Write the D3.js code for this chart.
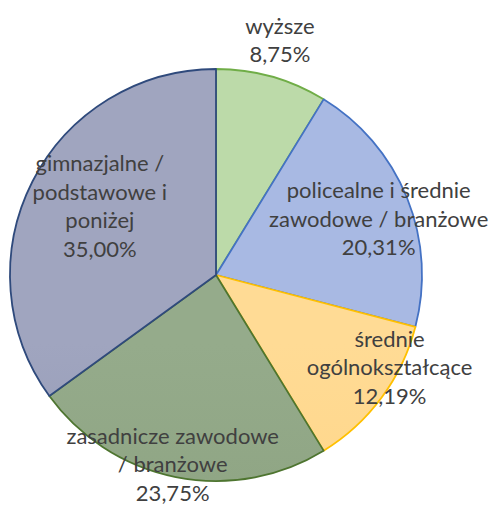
<!DOCTYPE html>
<html><head><meta charset="utf-8">
<script src="https://cdn.jsdelivr.net/npm/d3@7"></script>
<style>html,body{margin:0;padding:0;background:#fff;}svg{display:block;}</style>
</head><body>
<svg id="c" width="493" height="506"></svg>
<script>
const categories = ["wyższe", "policealne i średnie zawodowe / branżowe", "średnie ogólnokształcące", "zasadnicze zawodowe / branżowe", "gimnazjalne / podstawowe i poniżej"];
const values = [8.75, 20.31, 12.19, 23.75, 35.00];
const labelLines = [["wyższe"], ["policealne i średnie", "zawodowe / branżowe"], ["średnie", "ogólnokształcące"], ["zasadnicze zawodowe", "/ branżowe"], ["gimnazjalne /", "podstawowe i", "poniżej"]];
const valueLabels = ["8,75%", "20,31%", "12,19%", "23,75%", "35,00%"];

const fillTop = ["#bcdaa9", "#a8b9e3", "#ffdb95", "#95ab8b", "#a0a5bf"];
const fillBot = ["#adcf97", "#8a9fd8", "#ffd07a", "#869c79", "#868cab"];
const strokes = ["#70ad47", "#4472c4", "#ffc000", "#4e7530", "#2f4a7c"];
// label placement (radius factor, angle offset in degrees)
const labelR = [1.18, 0.835, 0.955, 0.945, 0.655];
const labelDA = [-0.5, 3, -8.5, 1.6, 3.6];

const cx = 216, cy = 275, R = 206;
const svg = d3.select("#c");
const defs = svg.append("defs");
values.forEach((v, i) => {
  const g = defs.append("linearGradient").attr("id", "g" + i)
    .attr("gradientUnits", "userSpaceOnUse")
    .attr("x1", 0).attr("y1", cy - R).attr("x2", 0).attr("y2", cy + R);
  g.append("stop").attr("offset", "0%").attr("stop-color", fillTop[i]);
  g.append("stop").attr("offset", "100%").attr("stop-color", fillBot[i]);
});

const pie = d3.pie().sort(null).value(d => d)(values);
const arc = d3.arc().innerRadius(0).outerRadius(R);
const g = svg.append("g");
g.selectAll("path").data(pie).join("path")
  .attr("transform", `translate(${cx},${cy})`)
  .attr("d", arc)
  .attr("fill", (d, i) => `url(#g${i})`)
  .attr("stroke", (d, i) => strokes[i])
  .attr("stroke-width", 1.8)
  .attr("stroke-linejoin", "round");

const fs = 22, lh = 28.5;
pie.forEach((d, i) => {
  const a = (d.startAngle + d.endAngle) / 2 + labelDA[i] * Math.PI / 180;
  const r = R * labelR[i];
  const x = cx + r * Math.sin(a), y = cy - r * Math.cos(a);
  const lines = labelLines[i].concat([valueLabels[i]]);
  const t = svg.append("text")
    .attr("text-anchor", "middle")
    .attr("font-family", "Lato, 'Open Sans', sans-serif")
    .attr("font-size", fs)
    .attr("fill", "#404040");
  const y0 = y - (lines.length - 1) * lh / 2;
  lines.forEach((l, k) => {
    t.append("tspan").attr("x", x).attr("y", y0 + k * lh).attr("dy", "0.35em").text(l);
  });
});
</script>
</body></html>
